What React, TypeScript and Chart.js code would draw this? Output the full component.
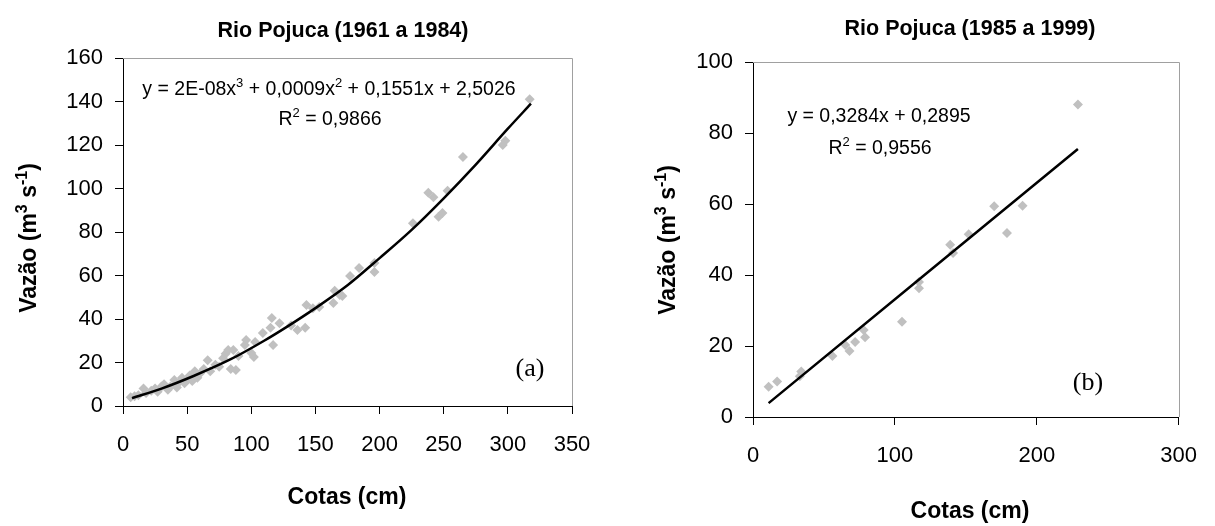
import React, { useEffect, useRef } from "react";
import { Chart, registerables } from "chart.js";
Chart.register(...registerables);

// ---- Data: chart (a) Rio Pojuca 1961-1984 ----
const leftTitle = "Rio Pojuca (1961 a 1984)";
const leftCotas = [6, 9, 12, 16, 18, 22, 25, 27, 30, 32, 35, 37, 40, 42, 44, 46, 48, 50, 52, 54, 56, 58, 60, 63, 66, 68, 72, 75, 78, 80, 82, 84, 86, 88, 90, 95, 96, 100, 102, 103, 109, 115, 116, 117, 122, 131, 136, 142, 143, 148, 153, 164, 165, 169, 171, 177, 184, 196, 196, 226, 238, 242, 246, 249, 253, 265, 296, 298, 317];
const leftVazao = [4, 4.5, 5, 8, 6, 7, 8, 6.5, 9, 10, 7.5, 9, 12, 8.5, 11, 13, 10.5, 12, 14, 11.5, 16, 13, 15, 17, 21, 16, 19, 18, 22, 24, 25.7, 17, 25.7, 16.5, 23, 28, 30.3, 24.4, 22.5, 29.4, 33.6, 36, 40.5, 28, 38, 37, 35, 36, 46.4, 45, 45.5, 47.4, 53, 51, 50.6, 59.8, 63.4, 65.7, 61.6, 84, 98, 96, 87, 88.7, 99, 114.5, 120, 122, 141];
const leftTrendX = [7, 30, 55, 84, 110, 128, 150, 175, 200, 225, 250, 275, 300, 318];
const leftTrendY = [3.6, 8.0, 13.8, 21.5, 30, 36.5, 45, 55.5, 68, 81, 95.5, 111, 127.5, 139];
const leftEquation = [{ t: "y = 2E-08x" }, { t: "3", sup: true }, { t: " + 0,0009x" }, { t: "2", sup: true }, { t: " + 0,1551x + 2,5026" }];
const leftR2 = [{ t: "R" }, { t: "2", sup: true }, { t: " = 0,9866" }];
const leftTag = [{ t: "(a)" }];

// ---- Data: chart (b) Rio Pojuca 1985-1999 ----
const rightTitle = "Rio Pojuca (1985 a 1999)";
const rightCotas = [11, 17, 33, 34, 56, 65, 68, 72, 78, 79, 105, 117, 117, 139, 141, 152, 170, 179, 190, 229];
const rightVazao = [8.5, 10, 11.5, 12.8, 17.2, 20.3, 18.6, 21.1, 24.5, 22.5, 26.8, 38, 36.3, 48.5, 46.2, 51.5, 59.4, 51.8, 59.5, 88];
const rightTrendX = [11, 229];
const rightTrendY = [3.9, 75.5];
const rightEquation = [{ t: "y = 0,3284x + 0,2895" }];
const rightR2 = [{ t: "R" }, { t: "2", sup: true }, { t: " = 0,9556" }];
const rightTag = [{ t: "(b)" }];

const yAxisTitle = [{ t: "Vazão (m" }, { t: "3", sup: true }, { t: " s" }, { t: "-1", sup: true }, { t: ")" }];
const xAxisTitle = [{ t: "Cotas (cm)" }];

const SANS = "'Liberation Sans', Arial, sans-serif";
const SERIF = "'Liberation Serif', 'Times New Roman', serif";

type Seg = { t: string; sup?: boolean };
type TextItem = { segs: Seg[]; x: number; y: number; size: number; bold?: boolean; family?: string; rotate?: number };

function drawRich(ctx: CanvasRenderingContext2D, it: TextItem) {
  const fam = it.family || SANS;
  const w8 = it.bold ? "bold " : "";
  const base = `${w8}${it.size}px ${fam}`;
  const supF = `${w8}${Math.round(it.size * 0.68)}px ${fam}`;
  let total = 0;
  for (const s of it.segs) {
    ctx.font = s.sup ? supF : base;
    total += ctx.measureText(s.t).width;
  }
  ctx.save();
  ctx.translate(it.x, it.y);
  if (it.rotate) ctx.rotate(it.rotate);
  ctx.fillStyle = "#000";
  ctx.textAlign = "left";
  ctx.textBaseline = "alphabetic";
  const baseY = it.size * 0.36;
  let cx = -total / 2;
  for (const s of it.segs) {
    ctx.font = s.sup ? supF : base;
    ctx.fillText(s.t, cx, s.sup ? baseY - it.size * 0.4 : baseY);
    cx += ctx.measureText(s.t).width;
  }
  ctx.restore();
}

const decorPlugin = {
  id: "decor",
  beforeDatasetsDraw(chart: any) {
    const { ctx, chartArea: a } = chart;
    ctx.save();
    ctx.strokeStyle = "#a0a0a0";
    ctx.lineWidth = 1;
    ctx.beginPath();
    ctx.moveTo(a.left, Math.round(a.top) + 0.5);
    ctx.lineTo(Math.round(a.right) + 0.5, Math.round(a.top) + 0.5);
    ctx.lineTo(Math.round(a.right) + 0.5, a.bottom);
    ctx.stroke();
    ctx.restore();
  },
  afterDraw(chart: any, _args: any, opts: any) {
    const { ctx } = chart;
    for (const t of opts.texts || []) drawRich(ctx, t);
  },
};

type Cfg = {
  cotas: number[];
  vazao: number[];
  trendX: number[];
  trendY: number[];
  xMax: number;
  xStep: number;
  yMax: number;
  yStep: number;
  pad: { left: number; top: number; right: number; bottom: number };
  yWidth: number;
  xHeight: number;
  texts: TextItem[];
};

function makeConfig(c: Cfg): any {
  const pts = c.cotas.map((x, i) => ({ x, y: c.vazao[i] }));
  const trend = c.trendX.map((x, i) => ({ x, y: c.trendY[i] }));
  const tickFont = { family: SANS, size: 22 };
  return {
    type: "scatter",
    data: {
      datasets: [
        {
          data: trend,
          showLine: true,
          borderColor: "#000",
          borderWidth: 2.5,
          pointRadius: 0,
          cubicInterpolationMode: "monotone",
          fill: false,
        },
        {
          data: pts,
          pointStyle: "rectRot",
          pointRadius: 5,
          backgroundColor: "#c0c0c0",
          borderWidth: 0,
        },
      ],
    },
    options: {
      animation: false,
      responsive: false,
      layout: { padding: c.pad },
      plugins: {
        legend: { display: false },
        tooltip: { enabled: false },
        title: { display: false },
        decor: { texts: c.texts },
      },
      scales: {
        x: {
          type: "linear",
          min: 0,
          max: c.xMax,
          afterFit: (s: any) => {
            s.height = c.xHeight;
          },
          ticks: { stepSize: c.xStep, color: "#000", padding: 18, font: tickFont, maxRotation: 0 },
          grid: { drawOnChartArea: false, drawTicks: true, tickLength: 8, tickColor: "#000" },
          border: { color: "#000", width: 1 },
        },
        y: {
          type: "linear",
          min: 0,
          max: c.yMax,
          afterFit: (s: any) => {
            s.width = c.yWidth;
          },
          ticks: { stepSize: c.yStep, color: "#000", padding: 12, font: tickFont },
          grid: { drawOnChartArea: false, drawTicks: true, tickLength: 8, tickColor: "#000" },
          border: { color: "#000", width: 1 },
        },
      },
    },
    plugins: [decorPlugin],
  };
}

function ChartCanvas({ cfg, left, width }: { cfg: Cfg; left: number; width: number }) {
  const ref = useRef<HTMLCanvasElement | null>(null);
  useEffect(() => {
    if (!ref.current) return;
    const chart = new Chart(ref.current, makeConfig(cfg));
    return () => chart.destroy();
  }, []);
  return (
    <canvas
      ref={ref}
      width={width}
      height={526}
      style={{ position: "absolute", left, top: 0, width, height: 526, display: "block" }}
    />
  );
}

const ROT = -Math.PI / 2;

const leftCfg: Cfg = {
  cotas: leftCotas,
  vazao: leftVazao,
  trendX: leftTrendX,
  trendY: leftTrendY,
  xMax: 350,
  xStep: 50,
  yMax: 160,
  yStep: 20,
  pad: { left: 0, top: 58, right: 38, bottom: 0 },
  yWidth: 123,
  xHeight: 120,
  texts: [
    { segs: [{ t: leftTitle }], x: 343, y: 29, size: 21.5, bold: true },
    { segs: leftEquation, x: 329, y: 88, size: 19.5 },
    { segs: leftR2, x: 330, y: 118, size: 19.5 },
    { segs: leftTag, x: 530, y: 367, size: 26, family: SERIF },
    { segs: yAxisTitle, x: 28, y: 238, size: 23, bold: true, rotate: ROT },
    { segs: xAxisTitle, x: 347, y: 496, size: 23, bold: true },
  ],
};

const rightCfg: Cfg = {
  cotas: rightCotas,
  vazao: rightVazao,
  trendX: rightTrendX,
  trendY: rightTrendY,
  xMax: 300,
  xStep: 100,
  yMax: 100,
  yStep: 20,
  pad: { left: 0, top: 62, right: 27, bottom: 0 },
  yWidth: 143,
  xHeight: 109,
  texts: [
    { segs: [{ t: rightTitle }], x: 360, y: 27, size: 21.5, bold: true },
    { segs: rightEquation, x: 269, y: 115, size: 19.5 },
    { segs: rightR2, x: 270, y: 147, size: 19.5 },
    { segs: rightTag, x: 478, y: 381, size: 26, family: SERIF },
    { segs: yAxisTitle, x: 57, y: 240, size: 23, bold: true, rotate: ROT },
    { segs: xAxisTitle, x: 360, y: 510, size: 23, bold: true },
  ],
};

export default function App() {
  return (
    <div
      style={{
        position: "fixed",
        left: 0,
        top: 0,
        width: 1215,
        height: 526,
        background: "#fff",
        overflow: "hidden",
      }}
    >
      <ChartCanvas cfg={leftCfg} left={0} width={610} />
      <ChartCanvas cfg={rightCfg} left={610} width={605} />
    </div>
  );
}
